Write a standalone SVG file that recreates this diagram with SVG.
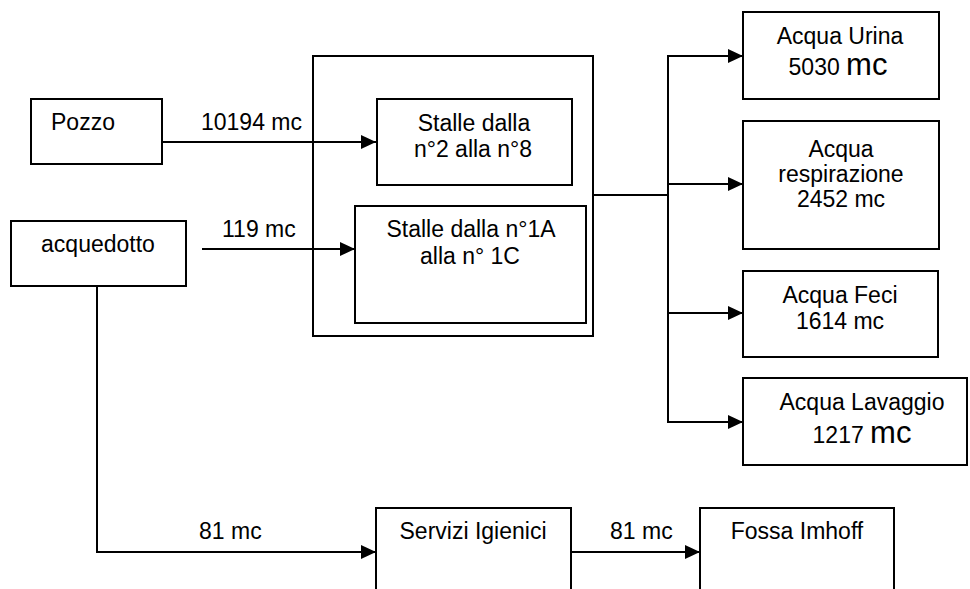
<svg xmlns="http://www.w3.org/2000/svg" width="970" height="589" viewBox="0 0 970 589">
  <style>
    .box { fill: #fff; stroke: #000; stroke-width: 2; }
    .wire { fill: none; stroke: #000; stroke-width: 2; }
    text { font-family: "Liberation Sans", Arial, sans-serif; font-size: 23px; fill: #000; }
    .c { text-anchor: middle; }
    .big { font-size: 31px; }
  </style>
  <defs>
    <marker id="arrow" markerUnits="userSpaceOnUse" markerWidth="16" markerHeight="16" refX="15" refY="7" orient="auto">
      <path d="M0,0 L15,7 L0,14 Z" fill="#000"/>
    </marker>
  </defs>

  <g id="pozzo">
    <rect class="box" x="31" y="99" width="131" height="65"/>
    <text x="51" y="130">Pozzo</text>
  </g>

  <g id="acquedotto">
    <rect class="box" x="11" y="221" width="175" height="65"/>
    <text class="c" x="98" y="252">acquedotto</text>
  </g>

  <g id="stalle">
    <rect class="box" x="313" y="56" width="280" height="280"/>
    <g id="stalle-2-8">
      <rect class="box" x="377" y="99" width="195" height="86"/>
      <text class="c" x="474" y="131">Stalle dalla</text>
      <text class="c" x="473" y="157">n°2 alla n°8</text>
    </g>
    <g id="stalle-1a-1c">
      <rect class="box" x="355" y="206" width="231" height="117"/>
      <text class="c" x="471" y="237">Stalle dalla n°1A</text>
      <text class="c" x="470" y="264">alla n° 1C</text>
    </g>
  </g>

  <g id="urina">
    <rect class="box" x="743" y="12" width="196" height="87"/>
    <text class="c" x="840" y="44">Acqua Urina</text>
    <text class="c" x="838" y="75">5030 <tspan class="big">mc</tspan></text>
  </g>

  <g id="respirazione">
    <rect class="box" x="743" y="121" width="196" height="128"/>
    <text class="c" x="841" y="157">Acqua</text>
    <text class="c" x="841" y="182">respirazione</text>
    <text class="c" x="841" y="207">2452 mc</text>
  </g>

  <g id="feci">
    <rect class="box" x="743" y="271" width="195" height="86"/>
    <text class="c" x="840" y="303">Acqua Feci</text>
    <text class="c" x="840" y="329">1614 mc</text>
  </g>

  <g id="lavaggio">
    <rect class="box" x="743" y="378" width="224" height="87"/>
    <text class="c" x="862" y="410">Acqua Lavaggio</text>
    <text class="c" x="862" y="443">1217 <tspan class="big">mc</tspan></text>
  </g>

  <g id="servizi">
    <rect class="box" x="376" y="508" width="195" height="100"/>
    <text class="c" x="473" y="539">Servizi Igienici</text>
  </g>

  <g id="fossa">
    <rect class="box" x="700" y="508" width="194" height="100"/>
    <text class="c" x="797" y="539">Fossa Imhoff</text>
  </g>

  <!-- connectors, drawn over the boxes so they cross the outer stable frame -->
  <g id="connectors">
    <line class="wire" x1="162" y1="142" x2="376" y2="142" marker-end="url(#arrow)"/>
    <line class="wire" x1="202" y1="249" x2="355" y2="249" marker-end="url(#arrow)"/>
    <line class="wire" x1="593" y1="195" x2="668" y2="195"/>
    <line class="wire" x1="668" y1="55" x2="668" y2="422"/>
    <line class="wire" x1="667" y1="56" x2="743" y2="56" marker-end="url(#arrow)"/>
    <line class="wire" x1="667" y1="184" x2="743" y2="184" marker-end="url(#arrow)"/>
    <line class="wire" x1="667" y1="313" x2="743" y2="313" marker-end="url(#arrow)"/>
    <line class="wire" x1="667" y1="422" x2="743" y2="422" marker-end="url(#arrow)"/>
    <polyline class="wire" points="97,286 97,552 376,552" marker-end="url(#arrow)"/>
    <line class="wire" x1="571" y1="552" x2="700" y2="552" marker-end="url(#arrow)"/>
    <text x="201" y="130">10194 mc</text>
    <text x="222" y="237">119 mc</text>
    <text x="199" y="539">81 mc</text>
    <text x="610" y="539">81 mc</text>
  </g>
</svg>
